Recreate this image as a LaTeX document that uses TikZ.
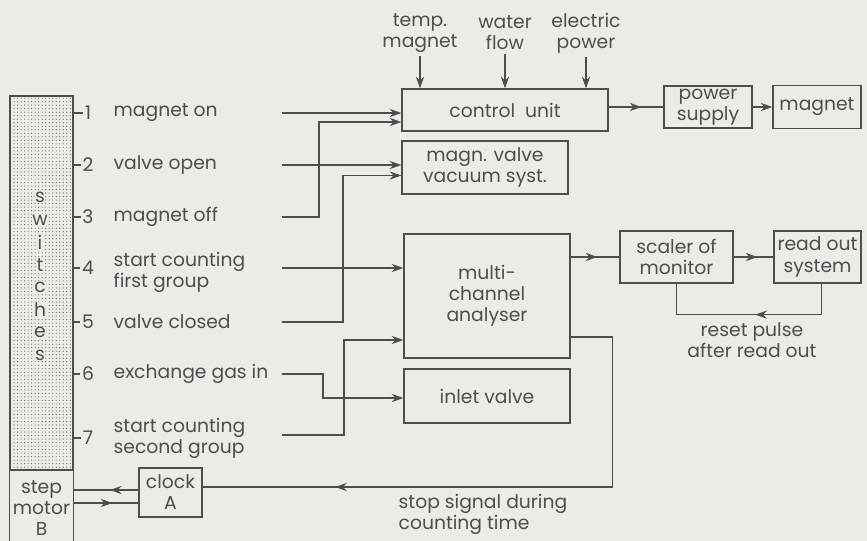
\documentclass[tikz,border=0pt]{standalone}
\usepackage{fontspec}
\setmainfont{Poppins}
\usepackage{xcolor}
\usetikzlibrary{arrows.meta, positioning, calc, patterns, decorations.markings}
\definecolor{paper}{RGB}{236,235,230}
\definecolor{ink}{RGB}{78,78,78}

\begin{document}
\begin{tikzpicture}[x=0.3mm, y=-0.3mm, line width=1.1pt, color=ink,
    box/.style={draw, inner sep=0pt, align=center},
    lbl/.style={anchor=west, align=left, inner sep=0pt},
    arr/.style={-{Stealth[length=10pt,width=7pt]}},
    flow/.style={postaction={decorate}, decoration={markings,
      mark=at position #1 with {\arrow{Stealth[length=10pt,width=7pt]}}}},
    every node/.style={font=\fontsize{16}{18}\selectfont}]
  \useasboundingbox[fill=paper] (0,0) rectangle (867,541);

  \node[draw, pattern=dots, pattern color=ink!90, minimum width=18.9mm,
    minimum height=112.2mm] (sw) at (41.5,283) {};
  \foreach \c [count=\i] in {s,w,i,t,c,h,e,s}
    \node[fill=paper, inner sep=0.5pt] (sw\i) at (40,175+22.5*\i) {\c};
  \node[inner sep=0pt, minimum width=18.9mm, align=center] (motor) at (41.5,508) {step\\motor\\B};
  \draw (sw.south west) -- ++(0,71);
  \draw (sw.south east) -- ++(0,71);

  \foreach \n/\y in {1/113,2/165,3/217,4/268,5/322,6/374,7/438} {
    \node[inner sep=1pt] (n\n) at (88,\y) {\n};
    \draw (sw.east |- n\n) -- (n\n.west);
  }
  \node[lbl] (l1) at (113,113) {magnet on};
  \node[lbl] (l2) at (113,165) {valve open};
  \node[lbl] (l3) at (113,217) {magnet off};
  \node[lbl] (l4) at (113,272) {start counting\\first group};
  \node[lbl] (l5) at (113,322) {valve closed};
  \node[lbl] (l6) at (113,374) {exchange gas in};
  \node[lbl] (l7) at (113,438) {start counting\\second group};
  \foreach \n/\y in {1/113,2/165,3/217,4/268,5/322,6/374,7/435}
    \coordinate (s\n) at (282,\y);

  \node[box, minimum width=61.8mm, minimum height=12.6mm] (ctrl) at (505,110) {control\ \ unit};
  \node[box, minimum width=49.8mm, minimum height=15.9mm] (valve) at (485,167.5) {magn. valve\\vacuum syst.};
  \node[box, minimum width=49.8mm, minimum height=37.2mm] (mca) at (487,296) {multi-\\channel\\analyser};
  \node[box, minimum width=49.8mm, minimum height=16.2mm] (inlet) at (487,396) {inlet valve};
  \node[box, minimum width=26.4mm, minimum height=12.6mm] (psu) at (708,107) {power\\supply};
  \node[box, minimum width=26.4mm, minimum height=12.9mm] (magnet) at (817,107) {magnet};
  \node[box, minimum width=33.9mm, minimum height=15.6mm] (scaler) at (676.5,257) {scaler of\\monitor};
  \node[box, minimum width=26.1mm, minimum height=15.6mm] (readout) at (817.5,257) {read out\\system};
  \node[box, minimum width=18.9mm, minimum height=14.7mm] (clock) at (170.5,492.5) {clock\\A};

  \node[align=center, inner sep=0pt] (tm) at (420,33) {temp.\\magnet};
  \node[align=center, inner sep=0pt] (wf) at (505,33) {water\\flow};
  \node[align=center, inner sep=0pt] (ep) at (586,33) {electric\\power};
  \foreach \t in {tm,wf,ep}
    \draw[arr, shorten <=1mm] (\t.south) -- (\t.south |- ctrl.north);

  \draw[arr] (s1) -- (ctrl.west |- s1);
  \draw[arr] (s2) -- (valve.west |- s2);
  \draw[arr] (s3) -- ++(37,0) |- ($(ctrl.west)+(0,12)$);
  \draw[arr] (s4) -- (mca.west |- s4);
  \draw[arr] (s5) -- ++(61,0) |- ($(valve.west)+(0,8)$);
  \draw[arr] (s6) -- ++(41,0) |- ($(inlet.west)+(0,2)$);
  \draw[arr] (s7) -- ++(62,0) |- ($(mca.west)+(0,44)$);

  \draw[flow=0.6] (ctrl.east |- psu) -- (psu.west);
  \draw[arr] (psu) -- (magnet);
  \draw[flow=0.55] (mca.east |- scaler) -- (scaler.west);
  \draw[flow=0.6] (scaler) -- (readout);
  \draw[flow=0.47] ([xshift=1.2mm]readout.south) -- ++(0,31) -| (scaler.south);
  \node[align=center, inner sep=0pt] (reset) at (752,340) {reset pulse\\after read out};

  \draw[flow=0.78] ($(mca.east)+(0,41)$) -- ++(42,0) |- ($(clock.east)+(0,-5.5)$);
  \node[lbl] (stop) at (398,514) {stop signal during\\counting time};
  \coordinate (cu) at ($(clock.west)+(0,-2.5)$);
  \coordinate (cd) at ($(clock.west)+(0,10.5)$);
  \draw[flow=0.44] (cu) -- (motor.east |- cu);
  \draw[flow=0.6] (motor.east |- cd) -- (cd);
\end{tikzpicture}
\end{document}
